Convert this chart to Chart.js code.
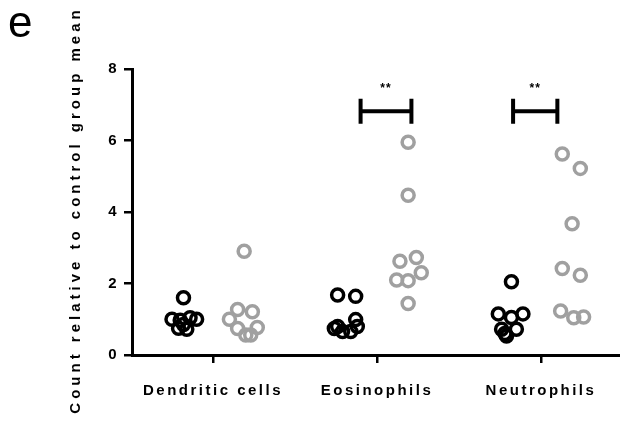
<!DOCTYPE html>
<html>
<head>
<meta charset="utf-8">
<script src="https://cdn.jsdelivr.net/npm/chart.js@4"></script>
<style>
  body { margin: 0; background: #fff; }
</style>
</head>
<body>
<canvas id="chart-canvas" width="620" height="424"></canvas>
<script>
let categories = ['Dendritic cells', 'Eosinophils', 'Neutrophils'];
let yTicks = [0, 2, 4, 6, 8];
let yTitle = 'Count relative to control group mean';
let panelLetter = 'e';

// control group (black) and treated group (grey), per category
let controlDendritic = [1.6, 1.0, 0.97, 1.04, 1.0, 0.75, 0.72, 0.85];
let controlEosinophils = [1.68, 1.64, 0.99, 0.8, 0.8, 0.66, 0.66, 0.74];
let controlNeutrophils = [2.05, 1.15, 1.05, 1.15, 0.72, 0.53, 0.72, 0.6];

let treatedDendritic = [2.9, 1.27, 1.21, 1.0, 0.74, 0.77, 0.56, 0.56];
let treatedEosinophils = [5.95, 4.47, 2.62, 2.73, 2.1, 2.08, 2.3, 1.44];
let treatedNeutrophils = [5.62, 5.22, 3.67, 2.42, 2.23, 1.23, 1.04, 1.06];

// horizontal scatter of the dots inside each column (in category units)
let controlJitter = [
    [-0.18, -0.25, -0.20, -0.14, -0.10, -0.21, -0.16, -0.18],
    [-0.24, -0.13, -0.13, -0.24, -0.12, -0.21, -0.16, -0.26],
    [-0.18, -0.26, -0.18, -0.11, -0.24, -0.21, -0.15, -0.22]
];
let treatedJitter = [
    [0.19, 0.15, 0.24, 0.10, 0.15, 0.27, 0.20, 0.23],
    [0.19, 0.19, 0.14, 0.24, 0.12, 0.19, 0.27, 0.19],
    [0.13, 0.24, 0.19, 0.13, 0.24, 0.12, 0.20, 0.26]
];

// significance brackets: category, left/right offsets, height, label
let sigCategory = [1, 2];
let sigLeft = [-0.10, -0.17];
let sigRight = [0.21, 0.10];
let sigLevel = [6.82, 6.82];
let sigCap = 0.35;
let sigLabel = ['**', '**'];

const FONT = '"Liberation Sans", Arial, sans-serif';

function points(values, cat, jitter) {
    return values.map((v, i) => ({ x: cat + jitter[i], y: v }));
}

let controlPoints = [controlDendritic, controlEosinophils, controlNeutrophils]
    .flatMap((vals, c) => points(vals, c, controlJitter[c]));
let treatedPoints = [treatedDendritic, treatedEosinophils, treatedNeutrophils]
    .flatMap((vals, c) => points(vals, c, treatedJitter[c]));

let bracketSets = sigCategory.map((c, i) => {
    let a = c + sigLeft[i], b = c + sigRight[i], y = sigLevel[i];
    return {
        type: 'line',
        data: [
            { x: a, y: y + sigCap }, { x: a, y: y - sigCap }, { x: a, y: y },
            { x: b, y: y }, { x: b, y: y + sigCap }, { x: b, y: y - sigCap }
        ],
        borderColor: '#000',
        borderWidth: 4,
        pointRadius: 0,
        fill: false,
        tension: 0,
        borderCapStyle: 'butt'
    };
});

// stars over brackets, rotated y title and the panel letter
const extrasPlugin = {
    id: 'extras',
    beforeDraw(chart) {
        chart.ctx.letterSpacing = '2.5px';
    },
    afterDraw(chart) {
        let ctx = chart.ctx;
        let xs = chart.scales.x, ys = chart.scales.y;

        ctx.save();
        ctx.fillStyle = '#000';
        ctx.letterSpacing = '1px';
        ctx.font = 'bold 12px ' + FONT;
        ctx.textAlign = 'center';
        ctx.textBaseline = 'middle';
        sigCategory.forEach((c, i) => {
            let mid = c + (sigLeft[i] + sigRight[i]) / 2;
            ctx.fillText(sigLabel[i], xs.getPixelForValue(mid), ys.getPixelForValue(sigLevel[i] + 0.62));
        });
        ctx.restore();

        ctx.save();
        ctx.fillStyle = '#000';
        ctx.letterSpacing = '4px';
        ctx.font = 'bold 15px ' + FONT;
        ctx.textAlign = 'center';
        ctx.textBaseline = 'middle';
        ctx.translate(76, (ys.top + ys.bottom) / 2);
        ctx.rotate(-Math.PI / 2);
        ctx.fillText(yTitle, 2, 0);
        ctx.restore();

        ctx.save();
        ctx.fillStyle = '#000';
        ctx.letterSpacing = '0px';
        ctx.font = '44px ' + FONT;
        ctx.textAlign = 'left';
        ctx.textBaseline = 'alphabetic';
        ctx.fillText(panelLetter, 8, 37);
        ctx.restore();
    }
};

let chartCanvas = document.getElementById('chart-canvas');

const myChart = new Chart(chartCanvas, {
    type: 'scatter',
    data: {
        datasets: [
            {
                label: 'Control',
                data: controlPoints,
                borderColor: '#000',
                backgroundColor: 'rgba(0,0,0,0)',
                borderWidth: 3.5,
                pointRadius: 6,
                pointHoverRadius: 6
            },
            {
                label: 'Treated',
                data: treatedPoints,
                borderColor: '#a0a0a0',
                backgroundColor: 'rgba(0,0,0,0)',
                borderWidth: 3.5,
                pointRadius: 6,
                pointHoverRadius: 6
            },
            ...bracketSets
        ]
    },
    options: {
        responsive: false,
        animation: false,
        events: [],
        layout: { autoPadding: false, padding: { top: 69, right: 0, left: 0, bottom: 0 } },
        plugins: { legend: { display: false }, tooltip: { enabled: false } },
        scales: {
            x: {
                type: 'linear',
                min: -0.494,
                max: 2.482,
                afterBuildTicks(scale) {
                    scale.ticks = categories.map((_, i) => ({ value: i }));
                },
                afterFit(scale) {
                    scale.height = 69;
                    scale.paddingLeft = 0;
                    scale.paddingRight = 0;
                },
                ticks: {
                    color: '#000',
                    font: { family: FONT, size: 15, weight: 'bold' },
                    padding: 19,
                    maxRotation: 0,
                    autoSkip: false,
                    callback: (v) => categories[v]
                },
                grid: { drawOnChartArea: false, color: '#000', lineWidth: 2.5, tickLength: 8 },
                border: { color: '#000', width: 3 }
            },
            y: {
                min: 0,
                max: 8,
                afterBuildTicks(scale) {
                    scale.ticks = yTicks.map(v => ({ value: v }));
                },
                afterFit(scale) {
                    scale.width = 132;
                    scale.paddingTop = 0;
                    scale.paddingBottom = 0;
                },
                ticks: {
                    color: '#000',
                    font: { family: FONT, size: 15, weight: 'bold' },
                    padding: 5
                },
                grid: { drawOnChartArea: false, color: '#000', lineWidth: 2.5, tickLength: 8 },
                border: { color: '#000', width: 3 }
            }
        }
    },
    plugins: [extrasPlugin]
});
</script>
</body>
</html>
